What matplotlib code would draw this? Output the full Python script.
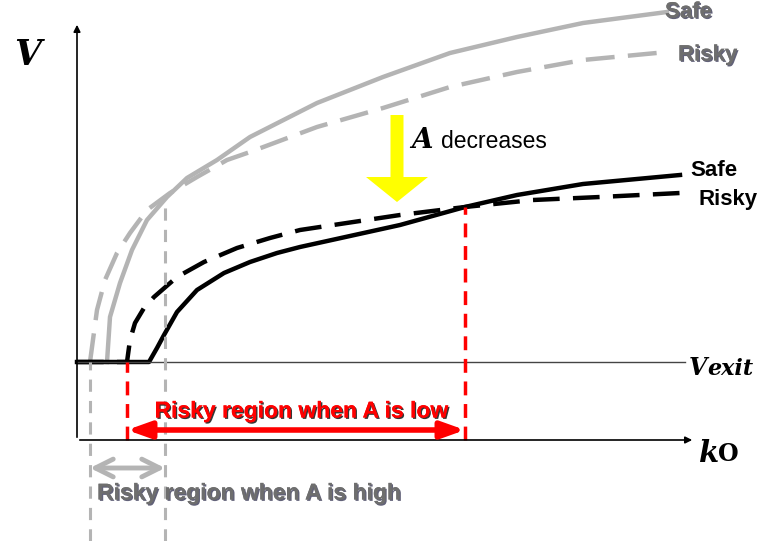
import matplotlib
matplotlib.use("Agg")
import matplotlib.pyplot as plt
import matplotlib.patheffects as pe

# sketch coordinates: x along kO, y along V, origin at the axes corner
v_exit = 78

safe_high_x = [30, 33, 43, 55, 70, 90, 110, 140, 173, 240, 306, 373, 440, 506, 590]
safe_high_y = [78, 123, 157, 190, 220, 243, 262, 280, 303, 337, 363, 387, 403, 417, 428]

risky_high_x = [13, 20, 28, 40, 53, 70, 93, 120, 150, 173, 240, 306, 373, 440, 506, 590]
risky_high_y = [78, 130, 160, 187, 207, 230, 247, 263, 280, 288, 313, 332, 353, 368, 380, 388]

safe_low_x = [0, 72, 80, 87, 100, 120, 147, 173, 200, 223, 273, 323, 388, 440, 506, 603]
safe_low_y = [78, 78, 92, 105, 128, 150, 167, 178, 187, 193, 204, 215, 233, 245, 256, 265]

risky_low_x = [0, 50, 53, 58, 67, 77, 100, 127, 160, 193, 223, 323, 388, 456, 523, 603]
risky_low_y = [78, 78, 100, 117, 132, 143, 163, 178, 192, 202, 210, 225, 233, 240, 243, 247]

# edges of the risky regions (where the curves leave v_exit / cross)
high_start = 13
high_cross = (88, 245)
low_start = 50
low_cross = (388, 233)

fig = plt.figure(figsize=(7.73, 5.41), dpi=100)
ax = fig.add_axes([0, 0, 1, 1])
ax.set_xlim(-77, 696)
ax.set_ylim(-101, 440)
ax.axis("off")

gray = "#b4b4b4"
lw = 3.2
style = dict(lw=lw, solid_joinstyle="round", dash_joinstyle="round")

ax.plot(safe_high_x, safe_high_y, color=gray, **style)
ax.plot(risky_high_x, risky_high_y, color=gray, dashes=(6.5, 3), **style)
ax.plot(safe_low_x, safe_low_y, color="black", **style)
ax.plot(risky_low_x, risky_low_y, color="black", dashes=(6, 3), **style)

# axes with arrow heads
ax.annotate("", xy=(0, 418), xytext=(0, 0),
            arrowprops=dict(arrowstyle="-|>", color="black", lw=1.2, mutation_scale=10))
ax.annotate("", xy=(618, 0), xytext=(0, 0),
            arrowprops=dict(arrowstyle="-|>", color="black", lw=1.2, mutation_scale=10))
ax.plot([0, 608], [v_exit, v_exit], color="#444444", lw=1.0)

serif_bi = dict(family="DejaVu Serif", style="italic", weight="bold")
ax.text(-49, 385, "V", fontsize=25, ha="center", va="center", **serif_bi)
ax.text(612, v_exit - 6, "V", fontsize=17, ha="left", va="center", **serif_bi)
ax.text(630, v_exit - 7, "exit", fontsize=16, ha="left", va="center", **serif_bi)
ax.text(622, -13, "k", fontsize=21, ha="left", va="center", **serif_bi)
ax.text(641, -14, "O", fontsize=17, family="DejaVu Serif", weight="bold",
        ha="left", va="center")

# risky region when A is low
ax.plot([low_start, low_start], [0, v_exit], color="red", lw=2.5, dashes=(4, 2.5))
ax.plot([low_cross[0], low_cross[0]], [0, low_cross[1]], color="red", lw=2.5, dashes=(4, 2.5))
ax.annotate("", xy=(low_start, 10), xytext=(low_cross[0], 10),
            arrowprops=dict(arrowstyle="<|-|>,head_length=0.7,head_width=0.25",
                            color="red", lw=4, mutation_scale=20, shrinkA=0, shrinkB=0))
ax.text(224, 29, "Risky region when A is low", color="red", fontsize=16.5,
        weight="bold", family="Liberation Sans", ha="center", va="center",
        path_effects=[pe.withSimplePatchShadow(offset=(1, -1), shadow_rgbFace="#202020",
                                               alpha=0.9), pe.Normal()])

# risky region when A is high
gray_text = dict(color="#6e6e6e", weight="bold", family="Liberation Sans",
                 ha="left", va="center",
                 path_effects=[pe.withSimplePatchShadow(offset=(1, -1),
                                                        shadow_rgbFace="#202040",
                                                        alpha=0.7), pe.Normal()])
ax.plot([high_start, high_start], [-101, v_exit], color=gray, lw=2.2, dashes=(4, 3))
ax.plot([high_cross[0], high_cross[0]], [-101, high_cross[1]], color=gray, lw=2.2,
        dashes=(4, 3))
ax.annotate("", xy=(high_start, -28), xytext=(high_cross[0], -28),
            arrowprops=dict(arrowstyle="<->,head_length=0.8,head_width=0.4",
                            color=gray, lw=3.5, mutation_scale=16, shrinkA=0, shrinkB=0))
ax.text(20, -53, "Risky region when A is high", fontsize=16.5, **gray_text)

# A decreases arrow
ax.arrow(320, 325, 0, -87, width=13, head_width=62, head_length=25,
         length_includes_head=True, color="#ffff00", lw=0)
ax.text(334, 299, "A", fontsize=20, ha="left", va="center", **serif_bi)
ax.text(364, 299, "decreases", fontsize=16.5, family="Liberation Sans",
        ha="left", va="center")

# curve labels
ax.text(588, 428, "Safe", fontsize=16, **gray_text)
ax.text(601, 385, "Risky", fontsize=16, **gray_text)
ax.text(613, 270, "Safe", color="black", fontsize=16, weight="bold",
        family="Liberation Sans", ha="left", va="center")
ax.text(621, 240, "Risky", color="black", fontsize=16, weight="bold",
        family="Liberation Sans", ha="left", va="center")

fig.savefig("out.png", dpi=100)
